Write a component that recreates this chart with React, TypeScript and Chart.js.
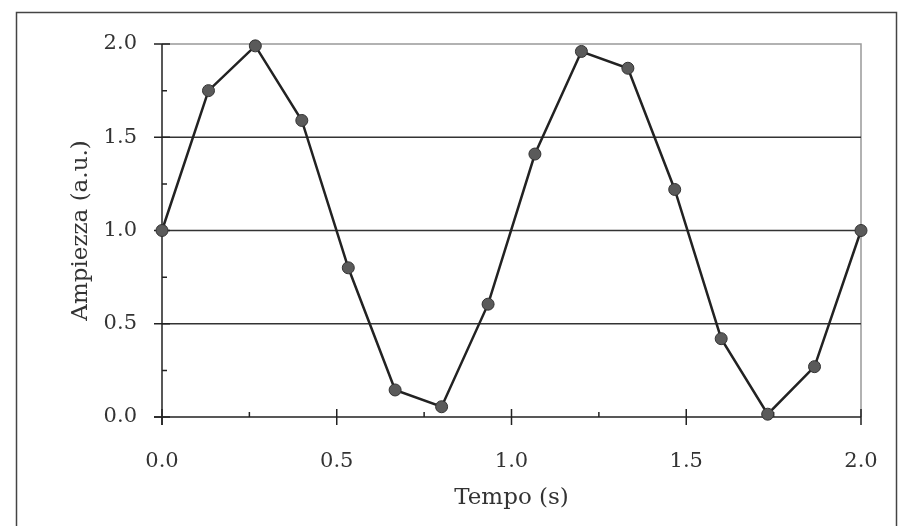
import React, { useEffect, useRef } from "react";
import { Chart, registerables } from "chart.js";

Chart.register(...registerables);

const times = [0, 0.133, 0.267, 0.4, 0.533, 0.667, 0.8, 0.933, 1.067, 1.2, 1.333, 1.467, 1.6, 1.733, 1.867, 2.0];
const amplitudes = [1.0, 1.75, 1.99, 1.59, 0.8, 0.145, 0.055, 0.605, 1.41, 1.96, 1.87, 1.22, 0.42, 0.015, 0.27, 1.0];
const majorTicks = [0, 0.5, 1.0, 1.5, 2.0];
const minorTicks = [0.25, 0.75, 1.25, 1.75];
const gridValues = [0.5, 1.0, 1.5];
const xTitle = "Tempo (s)";
const yTitle = "Ampiezza (a.u.)";

const FONT = "'DejaVu Serif', serif";

const decorPlugin = {
  id: "decor",
  beforeDraw(chart: any) {
    const ctx = chart.ctx;
    ctx.save();
    ctx.fillStyle = "#fff";
    ctx.fillRect(0, 0, chart.width, chart.height);
    ctx.strokeStyle = "#444";
    ctx.lineWidth = 1.5;
    ctx.strokeRect(16.5, 12.5, 880, 600);
    ctx.restore();
  },
  beforeDatasetsDraw(chart: any) {
    const ctx = chart.ctx;
    const { left, right, top, bottom } = chart.chartArea;
    const xs = chart.scales.x;
    const ys = chart.scales.y;
    ctx.save();
    ctx.strokeStyle = "#999";
    ctx.lineWidth = 1.5;
    ctx.beginPath();
    ctx.moveTo(left, top);
    ctx.lineTo(right, top);
    ctx.lineTo(right, bottom);
    ctx.stroke();
    ctx.strokeStyle = "#333";
    ctx.lineWidth = 1.5;
    gridValues.forEach((v) => {
      const y = ys.getPixelForValue(v);
      ctx.beginPath();
      ctx.moveTo(left, y);
      ctx.lineTo(right, y);
      ctx.stroke();
    });
    ctx.strokeStyle = "#222";
    ctx.lineWidth = 1.5;
    ctx.beginPath();
    ctx.moveTo(left, top);
    ctx.lineTo(left, bottom + 8);
    ctx.moveTo(left - 8, bottom);
    ctx.lineTo(right, bottom);
    ctx.stroke();
    ctx.beginPath();
    majorTicks.forEach((v) => {
      const y = ys.getPixelForValue(v);
      ctx.moveTo(left - 8, y);
      ctx.lineTo(left + 8, y);
      const x = xs.getPixelForValue(v);
      ctx.moveTo(x, bottom - 8);
      ctx.lineTo(x, bottom + 8);
    });
    minorTicks.forEach((v) => {
      const y = ys.getPixelForValue(v);
      ctx.moveTo(left, y);
      ctx.lineTo(left + 5, y);
      const x = xs.getPixelForValue(v);
      ctx.moveTo(x, bottom - 5);
      ctx.lineTo(x, bottom);
    });
    ctx.stroke();
    ctx.restore();
  },
};

export default function App() {
  const ref = useRef<HTMLCanvasElement | null>(null);
  useEffect(() => {
    if (!ref.current) return;
    const chart = new Chart(ref.current, {
      type: "line",
      data: {
        datasets: [
          {
            data: times.map((t, i) => ({ x: t, y: amplitudes[i] })),
            borderColor: "#222",
            borderWidth: 2.5,
            pointRadius: 6,
            pointBackgroundColor: "#5a5a5a",
            pointBorderColor: "#333",
            pointBorderWidth: 1,
            tension: 0,
            clip: false,
          } as any,
        ],
      },
      options: {
        animation: false,
        responsive: false,
        layout: { padding: { top: 44, right: 38, left: 0, bottom: 0 } },
        plugins: { legend: { display: false }, tooltip: { enabled: false } },
        scales: {
          x: {
            type: "linear",
            min: 0,
            max: 2,
            grid: { display: false, drawTicks: false },
            border: { display: false },
            ticks: {
              stepSize: 0.5,
              padding: 32,
              color: "#333",
              font: { family: FONT, size: 21 },
              maxRotation: 0,
              callback: (v: any) => Number(v).toFixed(1),
            },
            title: {
              display: true,
              text: xTitle,
              color: "#333",
              font: { family: FONT, size: 23 },
              padding: { top: 0, bottom: 14 },
            },
            afterFit: (s: any) => {
              s.height = 109;
              s.paddingLeft = 0;
              s.paddingRight = 0;
            },
          },
          y: {
            type: "linear",
            min: 0,
            max: 2,
            grid: { display: false, drawTicks: false },
            border: { display: false },
            ticks: {
              stepSize: 0.5,
              padding: 25,
              color: "#333",
              font: { family: FONT, size: 21 },
              callback: (v: any) => Number(v).toFixed(1),
            },
            title: {
              display: true,
              text: yTitle,
              color: "#333",
              font: { family: FONT, size: 23 },
              padding: { top: 67, bottom: 0 },
            },
            afterFit: (s: any) => {
              s.width = 162;
              s.paddingTop = 0;
              s.paddingBottom = 0;
            },
          },
        },
      },
      plugins: [decorPlugin],
    });
    return () => chart.destroy();
  }, []);
  return (
    <div style={{ position: "fixed", left: 0, top: 0, width: 899, height: 526, background: "#fff" }}>
      <canvas ref={ref} width={899} height={526} />
    </div>
  );
}
